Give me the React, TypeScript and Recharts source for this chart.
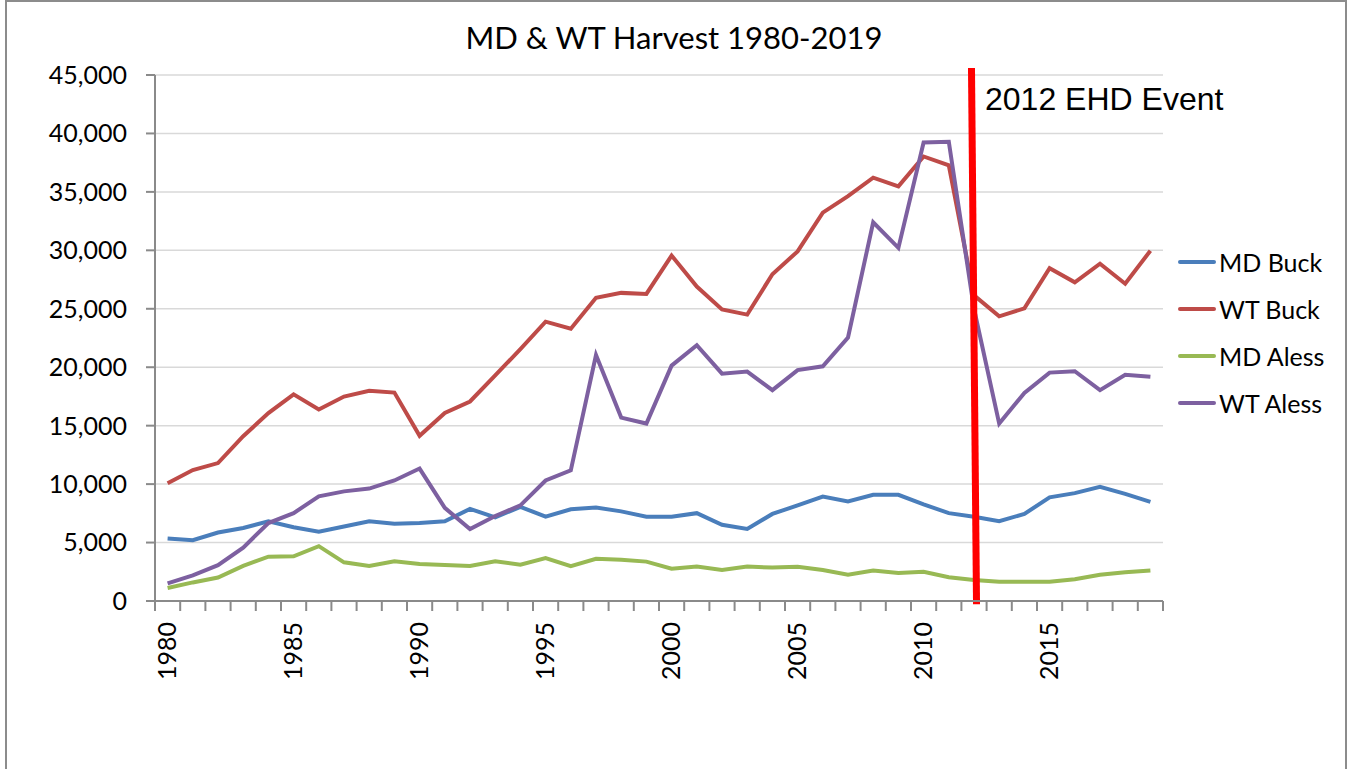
import { LineChart, Line, XAxis, YAxis, CartesianGrid, Legend, ReferenceLine } from "recharts";

const years = [
  1980, 1981, 1982, 1983, 1984, 1985, 1986, 1987, 1988, 1989,
  1990, 1991, 1992, 1993, 1994, 1995, 1996, 1997, 1998, 1999,
  2000, 2001, 2002, 2003, 2004, 2005, 2006, 2007, 2008, 2009,
  2010, 2011, 2012, 2013, 2014, 2015, 2016, 2017, 2018, 2019,
];

const mdBuck = [
  5350, 5200, 5860, 6250, 6820, 6310, 5920, 6370, 6820, 6610,
  6670, 6820, 7880, 7150, 8060, 7210, 7850, 8000, 7670, 7210,
  7210, 7515, 6520, 6160, 7450, 8180, 8930, 8510, 9080, 9080,
  8270, 7515, 7210, 6820, 7450, 8870, 9230, 9770, 9170, 8480,
];

const wtBuck = [
  10070, 11200, 11800, 14100, 16080, 17680, 16380, 17490, 17980, 17830,
  14130, 16080, 17070, 19300, 21550, 23900, 23300, 25940, 26360, 26270,
  29550, 26900, 24950, 24500, 27960, 29910, 33220, 34630, 36220, 35470,
  38030, 37270, 26150, 24350, 25040, 28470, 27260, 28860, 27140, 29970,
];

const mdAless = [
  1110, 1590, 2010, 3000, 3790, 3820, 4690, 3310, 3000, 3400,
  3160, 3070, 3000, 3400, 3100, 3670, 2980, 3610, 3520, 3370,
  2770, 2950, 2650, 2950, 2860, 2920, 2650, 2250, 2615, 2400,
  2500, 2040, 1800, 1650, 1650, 1650, 1860, 2250, 2460, 2615,
];

const wtAless = [
  1500, 2190, 3070, 4570, 6670, 7515, 8960, 9380, 9620, 10310,
  11330, 7970, 6160, 7270, 8180, 10310, 11180, 21040, 15690, 15180,
  20140, 21880, 19450, 19630, 18040, 19750, 20080, 22545, 32400, 30210,
  39230, 39290, 25000, 15180, 17800, 19540, 19660, 18040, 19360, 19180,
];

const yTicks = [0, 5000, 10000, 15000, 20000, 25000, 30000, 35000, 40000, 45000];
const labelYears = [1980, 1985, 1990, 1995, 2000, 2005, 2010, 2015];
const eventYear = 2012;

const series = [
  { key: "mdBuck", name: "MD Buck", color: "#4a7ebb" },
  { key: "wtBuck", name: "WT Buck", color: "#be4b48" },
  { key: "mdAless", name: "MD Aless", color: "#98b954" },
  { key: "wtAless", name: "WT Aless", color: "#7d60a0" },
];

const data = years.map((year, i) => ({
  year,
  mdBuck: mdBuck[i],
  wtBuck: wtBuck[i],
  mdAless: mdAless[i],
  wtAless: wtAless[i],
}));

// tick marks sit between the years, like excel does
const boundaryTicks = [...years.map((y) => y - 0.5), years[years.length - 1] + 0.5];
const xDomain = [years[0] - 0.5, years[years.length - 1] + 0.5];

const font = "Lato, 'Noto Sans', sans-serif";

function YearTick(props: any) {
  const { x, y, payload } = props;
  return (
    <text
      x={x}
      y={y}
      transform={`rotate(-90, ${x}, ${y})`}
      textAnchor="end"
      dy="0.35em"
      fontSize={25}
      fontFamily={font}
      fill="#000"
    >
      {payload.value}
    </text>
  );
}

// marks axis only needs the little tick lines, no text
function NoLabel() {
  return <g />;
}

function LegendBox(props: any) {
  const { payload } = props;
  return (
    <div style={{ width: 170 }}>
      {payload.map((entry: any) => (
        <div key={entry.value} style={{ display: "flex", alignItems: "center", height: 47 }}>
          <span
            style={{
              display: "inline-block",
              width: 38,
              height: 4,
              borderRadius: 2,
              background: entry.color,
              marginRight: 3,
            }}
          />
          <span style={{ fontFamily: font, fontSize: 25, color: "#000" }}>{entry.value}</span>
        </div>
      ))}
    </div>
  );
}

const seriesOrder = (item: any) => series.findIndex((s) => s.key === item.dataKey);

export default function App() {
  return (
    <div
      style={{
        position: "absolute",
        left: 0,
        top: 0,
        width: 1348,
        height: 769,
        background: "#fff",
        overflow: "hidden",
      }}
    >
      <div
        style={{
          position: "absolute",
          left: 5,
          top: 0,
          width: 1338,
          height: 820,
          border: "2px solid #8c8c8c",
        }}
      />
      <div
        style={{
          position: "absolute",
          left: 0,
          top: 19,
          width: 1348,
          textAlign: "center",
          fontFamily: font,
          fontSize: 31,
          lineHeight: "36px",
          color: "#000",
        }}
      >
        MD &amp; WT Harvest 1980-2019
      </div>
      <div style={{ position: "absolute", left: 0, top: 0 }}>
        <LineChart width={1348} height={769} data={data} margin={{ top: 75, right: 15, bottom: 0, left: 0 }}>
          <CartesianGrid xAxisId="a_marks" vertical={false} stroke="#d9d9d9" strokeWidth={1.5} />
          <XAxis
            xAxisId="a_marks"
            dataKey="year"
            type="number"
            domain={xDomain}
            ticks={boundaryTicks}
            interval={0}
            tick={<NoLabel />}
            tickSize={10}
            height={1}
            axisLine={{ stroke: "#8a8a8a", strokeWidth: 2 }}
            tickLine={{ stroke: "#8a8a8a", strokeWidth: 2 }}
          />
          <XAxis
            xAxisId="b_labels"
            dataKey="year"
            type="number"
            domain={xDomain}
            ticks={labelYears}
            interval={0}
            height={167}
            axisLine={false}
            tickLine={false}
            tickSize={0}
            tickMargin={20}
            tick={<YearTick />}
          />
          <YAxis
            width={155}
            domain={[0, 45000]}
            ticks={yTicks}
            interval={0}
            tickFormatter={(v: number) => v.toLocaleString("en-US")}
            tick={{ fontSize: 25, fontFamily: font, fill: "#000" }}
            tickSize={9}
            tickMargin={19}
            axisLine={{ stroke: "#8a8a8a", strokeWidth: 2 }}
            tickLine={{ stroke: "#8a8a8a", strokeWidth: 2 }}
          />
          {series.map((s) => (
            <Line
              key={s.key}
              xAxisId="a_marks"
              type="linear"
              dataKey={s.key}
              name={s.name}
              stroke={s.color}
              strokeWidth={4}
              dot={false}
              isAnimationActive={false}
            />
          ))}
          <ReferenceLine
            xAxisId="a_marks"
            segment={[
              { x: eventYear - 0.1, y: 45600 },
              { x: eventYear + 0.1, y: -280 },
            ]}
            stroke="#ff0000"
            strokeWidth={7}
            ifOverflow="visible"
          />
          <Legend
            layout="vertical"
            align="right"
            verticalAlign="middle"
            itemSorter={seriesOrder}
            content={<LegendBox />}
            wrapperStyle={{ position: "absolute", left: 1178, top: 238, width: 170 }}
          />
        </LineChart>
      </div>
      <div
        style={{
          position: "absolute",
          left: 985,
          top: 83,
          fontFamily: "'Liberation Sans', Arial, sans-serif",
          fontSize: 32,
          lineHeight: "32px",
          color: "#000",
          whiteSpace: "nowrap",
        }}
      >
        2012 EHD Event
      </div>
    </div>
  );
}
